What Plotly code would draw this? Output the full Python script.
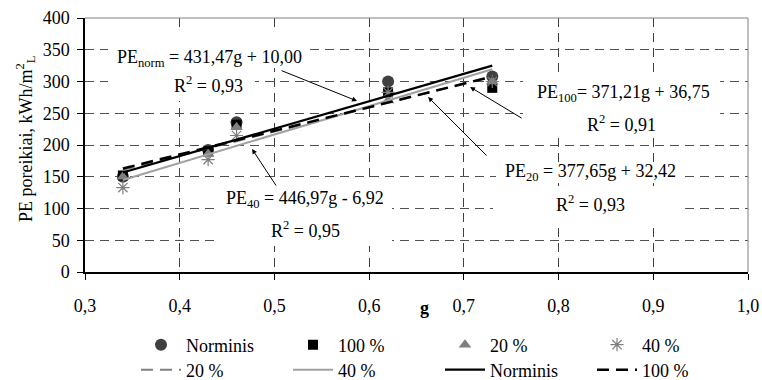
import plotly.graph_objects as go

# ---- data ----
g = [0.34, 0.43, 0.46, 0.62, 0.73]
norminis = [150, 192, 236, 300, 308]
p100 = [152, 190, 232, 283, 290]
p20 = [150, 186, 228, 270, 300]
p40 = [133, 177, 215, 283, 300]

fit_x = [0.34, 0.73]
norm_fit = [156.7, 325.0]
p100_fit = [163.0, 307.7]
p20_fit = [160.8, 308.1]
p40_fit = [145.0, 319.4]

x_ticks = [0.3, 0.4, 0.5, 0.6, 0.7, 0.8, 0.9, 1.0]
x_labels = ["0,3", "0,4", "0,5", "0,6", "0,7", "0,8", "0,9", "1,0"]
y_ticks = [0, 50, 100, 150, 200, 250, 300, 350, 400]

FONT = "Liberation Serif"
FS = 18

W, H = 762, 380

fig = go.Figure()
fig.add_trace(go.Scatter(x=g, y=norminis, mode="markers", name="Norminis", legend="legend",
                         marker=dict(symbol="circle", size=12, color="#404040")))
fig.add_trace(go.Scatter(x=g, y=p100, mode="markers", name="100 %", legend="legend",
                         marker=dict(symbol="square", size=10, color="#000000")))
fig.add_trace(go.Scatter(x=g, y=p20, mode="markers", name="20 %", legend="legend",
                         marker=dict(symbol="triangle-up", size=11, color="#7f7f7f")))
fig.add_trace(go.Scatter(x=g, y=p40, mode="markers", name="40 %", legend="legend",
                         marker=dict(symbol="asterisk-open", size=11, color="#7f7f7f",
                                     line=dict(color="#7f7f7f", width=1.2))))
fig.add_trace(go.Scatter(x=fit_x, y=p20_fit, mode="lines", name="20 %", legend="legend2",
                         line=dict(color="#808080", width=2, dash="12px,7px")))
fig.add_trace(go.Scatter(x=fit_x, y=p40_fit, mode="lines", name="40 %", legend="legend2",
                         line=dict(color="#a0a0a0", width=2)))
fig.add_trace(go.Scatter(x=fit_x, y=norm_fit, mode="lines", name="Norminis", legend="legend2",
                         line=dict(color="#000000", width=2.2)))
fig.add_trace(go.Scatter(x=fit_x, y=p100_fit, mode="lines", name="100 %", legend="legend2",
                         line=dict(color="#000000", width=2.5, dash="12px,7px")))

def px2x(p):
    return 0.3 + (p - 85) / 947.0

def px2y(p):
    return (272 - p) / 0.635

# white text boxes (above grid, below traces)
boxes = [(108, 310, 28, 68), (108, 255, 68, 101), (523, 720, 76, 138),
         (496, 684, 163, 183), (493, 685, 186, 222), (218, 392, 182, 246)]
shapes = []
for x0, x1, y0, y1 in boxes:
    shapes.append(dict(type="rect", xref="x", yref="y", x0=px2x(x0), x1=px2x(x1),
                       y0=px2y(y1), y1=px2y(y0), fillcolor="white",
                       line=dict(width=0), layer="between"))
# top and right border
shapes.append(dict(type="line", xref="paper", yref="paper", x0=0, x1=1, y0=1, y1=1,
                   line=dict(color="#808080", width=1)))
shapes.append(dict(type="line", xref="paper", yref="paper", x0=1, x1=1, y0=0, y1=1,
                   line=dict(color="#808080", width=1)))

texts = [
    (209, 58, "PE<sub>norm</sub> = 431,47g + 10,00"),
    (208, 84, "R<sup>2</sup> = 0,93"),
    (623, 93, "PE<sub>100</sub>= 371,21g + 36,75"),
    (621, 123, "R<sup>2</sup> = 0,91"),
    (590, 172, "PE<sub>20</sub> = 377,65g + 32,42"),
    (590, 203, "R<sup>2</sup> = 0,93"),
    (305, 199, "PE<sub>40</sub> = 446,97g - 6,92"),
    (305, 229, "R<sup>2</sup> = 0,95"),
]
annotations = []
for xp, yp, t in texts:
    annotations.append(dict(x=px2x(xp), y=px2y(yp), xref="x", yref="y", text=t,
                            xanchor="center", yanchor="middle",
                            showarrow=False, font=dict(family=FONT, size=FS, color="black")))

arrows = [((280, 70), (357, 101)), ((523, 119), (470, 87)),
          ((488, 157), (428, 97)), ((277, 187), (252, 149))]
for (tx, ty), (hx, hy) in arrows:
    annotations.append(dict(x=px2x(hx), y=px2y(hy), ax=px2x(tx), ay=px2y(ty),
                            xref="x", yref="y", axref="x", ayref="y", text="",
                            showarrow=True, arrowhead=2, arrowsize=1, arrowwidth=1,
                            arrowcolor="black"))

annotations.append(dict(x=(425 - 85) / 663, y=(272 - 308) / 254, xref="paper", yref="paper",
                        text="<b>g</b>", showarrow=False, xanchor="center", yanchor="middle",
                        font=dict(family=FONT, size=FS, color="black")))
annotations.append(dict(x=(25 - 85) / 663, y=(272 - 139) / 254, xref="paper", yref="paper",
                        text="PE poreikiai, kWh/m<sup>2</sup><sub>L</sub>", textangle=-90,
                        xanchor="center", yanchor="middle",
                        showarrow=False, font=dict(family=FONT, size=FS, color="black")))

leg_common = dict(orientation="h", xanchor="left", yanchor="middle",
                  xref="container", yref="container",
                  entrywidth=97, itemwidth=40, font=dict(family=FONT, size=FS),
                  bgcolor="rgba(0,0,0,0)", borderwidth=0)

fig.update_layout(
    width=W, height=H,
    margin=dict(l=85, r=W - 748, t=18, b=H - 272, autoexpand=False),
    paper_bgcolor="white", plot_bgcolor="white",
    font=dict(family=FONT, size=FS, color="black"),
    shapes=shapes, annotations=annotations,
    showlegend=True,
    legend=dict(x=136 / W, y=1 - 345 / H, **leg_common),
    legend2=dict(x=136 / W, y=1 - 370 / H, **leg_common),
)
fig.update_xaxes(range=[0.3, 1.0], tickvals=x_ticks, ticktext=x_labels,
                 showline=True, linecolor="black", linewidth=1.5,
                 ticks="outside", ticklen=6, tickcolor="black",
                 showgrid=True, gridcolor="#404040", gridwidth=1.3, griddash="9px,6px",
                 zeroline=False, ticklabelstandoff=11, ticklabeloverflow="allow")
fig.update_yaxes(range=[0, 400], tickvals=y_ticks,
                 showline=True, linecolor="black", linewidth=1.5,
                 ticks="outside", ticklen=6, tickcolor="black",
                 showgrid=True, gridcolor="#505050", gridwidth=1.3, griddash="9px,6px",
                 zeroline=False, ticklabelstandoff=4)

fig.write_html("out.html", config={"displayModeBar": False},
               post_script="document.body.style.margin='0';document.body.style.overflow='hidden';")
